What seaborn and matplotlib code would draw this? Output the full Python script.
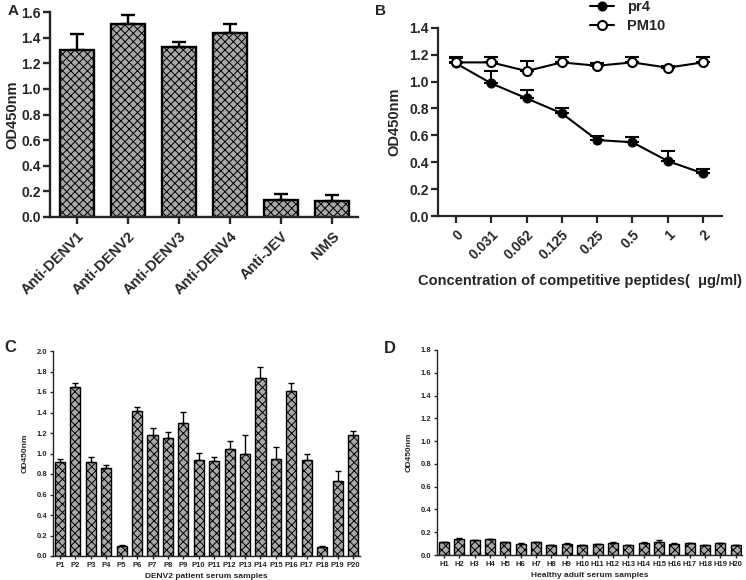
import numpy as np
import pandas as pd
import seaborn as sns
import matplotlib.pyplot as plt

# panel A: antibody binding
groups_a = ['Anti-DENV1', 'Anti-DENV2', 'Anti-DENV3', 'Anti-DENV4', 'Anti-JEV', 'NMS']
od_a = [1.30, 1.51, 1.33, 1.44, 0.13, 0.125]
err_a = [0.13, 0.07, 0.035, 0.07, 0.05, 0.047]

# panel B: competition
conc_labels = ['0', '0.031', '0.062', '0.125', '0.25', '0.5', '1', '2']
pr4 = [1.135, 0.986, 0.875, 0.763, 0.565, 0.548, 0.409, 0.317]
pr4_err = [0.04, 0.09, 0.06, 0.04, 0.03, 0.04, 0.075, 0.032]
pm10 = [1.142, 1.142, 1.078, 1.142, 1.117, 1.142, 1.103, 1.142]
pm10_err = [0.04, 0.04, 0.075, 0.04, 0.02, 0.04, 0.01, 0.04]

# panel C: DENV2 patients
patients = ['P%d' % i for i in range(1, 21)]
od_c = [0.914, 1.646, 0.914, 0.855, 0.10, 1.415, 1.18, 1.148, 1.294, 0.937,
        0.93, 1.044, 0.995, 1.733, 0.943, 1.613, 0.933, 0.091, 0.732, 1.18]
err_c = [0.03, 0.04, 0.05, 0.03, 0.012, 0.035, 0.065, 0.065, 0.11, 0.065,
         0.04, 0.08, 0.19, 0.107, 0.117, 0.07, 0.067, 0.01, 0.097, 0.04]

# panel D: healthy adults
healthy = ['H%d' % i for i in range(1, 21)]
od_d = [0.111, 0.143, 0.129, 0.14, 0.114, 0.10, 0.114, 0.088, 0.10, 0.085,
        0.094, 0.108, 0.088, 0.108, 0.117, 0.10, 0.105, 0.088, 0.105, 0.085]
err_d = [0.004, 0.004, 0.004, 0.004, 0.004, 0.003, 0.004, 0.003, 0.004, 0.003,
         0.003, 0.004, 0.003, 0.01, 0.012, 0.004, 0.004, 0.003, 0.004, 0.004]

sns.set_style('ticks')
plt.rcParams['font.family'] = ['Liberation Sans', 'DejaVu Sans']
plt.rcParams['font.weight'] = 'bold'
plt.rcParams['axes.labelweight'] = 'bold'
plt.rcParams['hatch.linewidth'] = 0.7

W, H = 746, 580
fig = plt.figure(figsize=(W / 100, H / 100), dpi=100)

def box(x0, x1, ytop, ybot):
    return [x0 / W, 1 - ybot / H, (x1 - x0) / W, (ybot - ytop) / H]

def bars(ax, names, vals, errs, lw, cap, xlim):
    df = pd.DataFrame({'name': names, 'od': vals})
    sns.barplot(data=df, x='name', y='od', ax=ax, color='#a8a8a8', width=0.65,
                edgecolor='black', linewidth=lw, hatch='xxxx', errorbar=None,
                saturation=1)
    n = len(vals)
    ax.errorbar(np.arange(n), vals, yerr=[np.zeros(n), errs], fmt='none',
                ecolor='black', elinewidth=lw, capsize=cap, capthick=lw, zorder=3)
    ax.set_xlim(*xlim)
    for s in ['top', 'right']:
        ax.spines[s].set_visible(False)
    for s in ['left', 'bottom']:
        ax.spines[s].set_linewidth(lw)

# ---- A
axA = fig.add_axes(box(50, 358, 12, 217))
bars(axA, groups_a, od_a, err_a, 1.7, 5, (-0.53, 5.51))
axA.set_ylim(0, 1.6)
axA.set_yticks(np.arange(0, 1.61, 0.2))
axA.set_yticklabels(['%.1f' % v for v in np.arange(0, 1.61, 0.2)], fontsize=10)
axA.set_xticks(range(len(groups_a)))
axA.set_xticklabels(groups_a, rotation=45, ha='right', rotation_mode='anchor', fontsize=10.5)
axA.tick_params(width=1.7, length=5)
axA.tick_params(axis='y', pad=1.5)
axA.set_xlabel('')
axA.set_ylabel('OD450nm', fontsize=10.5)
axA.yaxis.set_label_coords(-0.1, 0.5)

# ---- B
axB = fig.add_axes(box(438, 722, 27.7, 216))
xs = np.arange(len(conc_labels))
axB.errorbar(xs, pr4, yerr=[np.zeros(len(xs)), pr4_err], fmt='none', ecolor='black',
             elinewidth=1.5, capsize=5, capthick=1.5, zorder=1)
axB.errorbar(xs, pm10, yerr=[np.zeros(len(xs)), pm10_err], fmt='none', ecolor='black',
             elinewidth=1.5, capsize=5, capthick=1.5, zorder=1)
sns.lineplot(x=xs, y=pr4, ax=axB, color='black', marker='o', markersize=6.5,
             markerfacecolor='black', markeredgecolor='black', linewidth=1.5, label='pr4')
sns.lineplot(x=xs, y=pm10, ax=axB, color='black', marker='o', markersize=6.5,
             markerfacecolor='white', markeredgecolor='black', markeredgewidth=1.5,
             linewidth=1.5, label='PM10')
axB.set_xlim(-0.51, 7.54)
axB.set_ylim(0, 1.4)
axB.set_xticks(xs)
axB.set_xticklabels(conc_labels, rotation=45, ha='right', rotation_mode='anchor', fontsize=10)
axB.set_yticks(np.arange(0, 1.41, 0.2))
axB.set_yticklabels(['%.1f' % v for v in np.arange(0, 1.41, 0.2)], fontsize=10)
axB.tick_params(width=1.6, length=5)
axB.tick_params(axis='y', pad=1.5)
for s in ['top', 'right']:
    axB.spines[s].set_visible(False)
for s in ['left', 'bottom']:
    axB.spines[s].set_linewidth(1.6)
axB.set_ylabel('OD450nm', fontsize=10.5)
axB.yaxis.set_label_coords(-0.128, 0.5)
axB.set_xlabel('Concentration of competitive peptides(  \u03bcg/ml)', fontsize=10.5, labelpad=8)
axB.legend(loc='upper left', bbox_to_anchor=(583 / W, 1.012), bbox_transform=fig.transFigure,
           frameon=False, prop={'weight': 'bold', 'size': 10.5}, handlelength=1.6,
           handletextpad=0.9, labelspacing=0.35, borderpad=0)

# ---- C
axC = fig.add_axes(box(53, 360, 351, 556))
bars(axC, patients, od_c, err_c, 1.0, 2.5, (-0.45, 19.45))
axC.set_ylim(0, 2.0)
axC.set_yticks(np.arange(0, 2.01, 0.2))
axC.set_yticklabels(['%.1f' % v for v in np.arange(0, 2.01, 0.2)], fontsize=5.5)
axC.tick_params(width=1.0, length=2.5, labelsize=5.5, pad=1.5)
axC.set_ylabel('OD450nm', fontsize=6)
axC.yaxis.set_label_coords(-0.08, 0.5)
axC.set_xlabel('DENV2 patient serum samples', fontsize=6, labelpad=3)

# ---- D
axD = fig.add_axes(box(437, 742, 350, 555))
bars(axD, healthy, od_d, err_d, 1.0, 2.5, (-0.45, 19.4))
axD.set_ylim(0, 1.8)
axD.set_yticks(np.arange(0, 1.81, 0.2))
axD.set_yticklabels(['%.1f' % v for v in np.arange(0, 1.81, 0.2)], fontsize=5.5)
axD.tick_params(width=1.0, length=2.5, labelsize=5.5, pad=1.5)
axD.set_ylabel('OD450nm', fontsize=6)
axD.yaxis.set_label_coords(-0.08, 0.5)
axD.set_xlabel('Healthy adult serum samples', fontsize=6, labelpad=3)

# panel letters
for lab, x, y, fs in [('A', 8, 4, 11), ('B', 375, 4, 11), ('C', 4, 340, 12), ('D', 384, 341, 12)]:
    fig.text(x / W, 1 - y / H, lab, fontsize=fs, fontweight='bold', va='top', ha='left')

fig.savefig('out.png', dpi=100)
